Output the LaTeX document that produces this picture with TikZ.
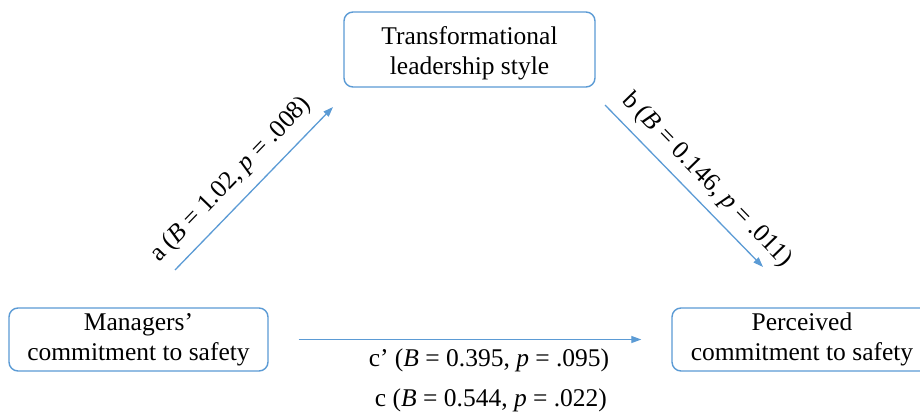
\documentclass[tikz,border=0pt]{standalone}
\usepackage{fontspec}
\setmainfont{Liberation Serif}
\usetikzlibrary{arrows.meta}
\definecolor{pathblue}{HTML}{5B9BD5}
\begin{document}
\begin{tikzpicture}[x=1pt,y=1pt,
  varbox/.style={draw=pathblue, line width=1.4pt, rounded corners=9pt, inner sep=0pt},
  boxtext/.style={align=center, font=\fontsize{25.5}{30}\selectfont, inner sep=0pt},
  conn/.style={draw=pathblue, line width=1.3pt, -{Triangle[length=10pt,width=7pt]}},
  coef/.style={font=\fontsize{25.5}{30}\selectfont, inner sep=0pt}]
  \useasboundingbox[fill=white] (0,0) rectangle (920,415);
  \clip (0,0) rectangle (920,415);

  % variables
  \node[varbox, minimum width=251pt, minimum height=75pt] (tls) at (469.5,365.5) {};
  \node[boxtext] (tlst) at ([yshift=-3.5pt]tls.center) {Transformational\\leadership style};
  \node[varbox, minimum width=259pt, minimum height=63pt] (mgr) at (138.5,75.5) {};
  \node[boxtext] (mgrt) at (mgr.center) {Managers’\\commitment to safety};
  \node[varbox, minimum width=260pt, minimum height=63pt] (pcs) at (802,75.5) {};
  \node[boxtext] (pcst) at (pcs.center) {Perceived\\commitment to safety};

  % path end points
  \coordinate (a0) at (175,145);
  \coordinate (a1) at (333,308);
  \coordinate (b0) at (605,310);
  \coordinate (b1) at (763,148);

  % paths
  \draw[conn] (a0) -- (a1);
  \draw[conn] (b0) -- (b1);
  \draw[conn] ([xshift=30pt]mgr.east) -- ([xshift=-30pt]pcs.west);

  % coefficients
  \node[coef, rotate=45.9] (la) at (231,235) {a (\textit{B} = 1.02, \textit{p} = .008)};
  \node[coef, rotate=-45.7] (lb) at (707,235) {b (\textit{B} = 0.146, \textit{p} = .011)};
  \node[coef] (lcp) at (489,55) {c’ (\textit{B} = 0.395, \textit{p} = .095)};
  \node[coef] (lc) at (491,15) {c (\textit{B} = 0.544, \textit{p} = .022)};
\end{tikzpicture}
\end{document}
